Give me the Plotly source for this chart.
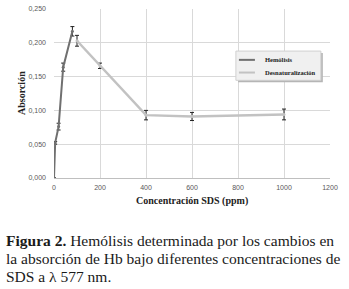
import plotly.graph_objects as go

hem_x = [0, 5, 20, 40, 80]
hem_y = [0.000, 0.052, 0.076, 0.164, 0.217]
hem_err = [0.000, 0.002, 0.005, 0.006, 0.007]

den_x = [100, 200, 400, 600, 1000]
den_y = [0.203, 0.166, 0.093, 0.091, 0.094]
den_err = [0.008, 0.004, 0.007, 0.006, 0.008]

x_ticks = [0, 200, 400, 600, 800, 1000, 1200]
y_ticks = [0.0, 0.05, 0.10, 0.15, 0.20, 0.25]

series_names = ["Hemólisis", "Desnaturalización"]
series_colors = ["#707070", "#c2c2c2"]

fig = go.Figure()
fig.add_trace(go.Scatter(
    x=hem_x, y=hem_y, name=series_names[0], mode="lines+markers",
    line=dict(color=series_colors[0], width=2), marker=dict(size=3, color=series_colors[0]),
    error_y=dict(type="data", array=hem_err, color="#222222", thickness=1, width=2)))
fig.add_trace(go.Scatter(
    x=den_x, y=den_y, name=series_names[1], mode="lines+markers",
    line=dict(color=series_colors[1], width=2.5), marker=dict(size=3, color=series_colors[1]),
    error_y=dict(type="data", array=den_err, color="#222222", thickness=1, width=2)))

# custom legend (paper coordinates)
shapes = [
    dict(type="rect", xref="paper", yref="paper", x0=0.667, x1=0.974, y0=0.566, y1=0.739,
         fillcolor="#b5b5b5", line=dict(width=0), layer="above"),
    dict(type="rect", xref="paper", yref="paper", x0=0.659, x1=0.967, y0=0.578, y1=0.751,
         fillcolor="#f0f0f0", line=dict(color="#d0d0d0", width=1), layer="above"),
]
legend_rows = [0.699, 0.624]
annotations = []
for name, color, yy in zip(series_names, series_colors, legend_rows):
    shapes.append(dict(type="line", xref="paper", yref="paper", x0=0.670, x1=0.728,
                       y0=yy, y1=yy, line=dict(color=color, width=2), layer="above"))
    annotations.append(dict(text="<b>" + name + "</b>", xref="paper", yref="paper",
                            x=0.757, y=yy, xanchor="left", yanchor="middle", showarrow=False,
                            font=dict(family="Liberation Serif", size=6.5, color="#222222")))

cap_font = dict(family="Liberation Serif", size=15.5, color="#1a1a1a")
annotations += [
    dict(text="<b>Absorción</b>", xref="paper", yref="paper", x=0, y=0.5,
         xshift=-40, textangle=-90, showarrow=False,
         font=dict(family="Liberation Serif", size=10, color="#222222")),
    dict(text="<b>Concentración SDS (ppm)</b>", xref="paper", yref="paper", x=0.5, y=0,
         yshift=-31, showarrow=False,
         font=dict(family="Liberation Serif", size=10, color="#222222")),
    dict(text="<b>Figura 2.</b> Hemólisis determinada por los cambios en", xref="paper",
         yref="paper", x=0, y=0, xshift=-50, yshift=-62, xanchor="left", yanchor="middle",
         showarrow=False, font=cap_font),
    dict(text="la absorción de Hb bajo diferentes concentraciones de", xref="paper",
         yref="paper", x=0, y=0, xshift=-50, yshift=-80, xanchor="left", yanchor="middle",
         showarrow=False, font=cap_font),
    dict(text="SDS a λ 577 nm.", xref="paper",
         yref="paper", x=0, y=0, xshift=-50, yshift=-98, xanchor="left", yanchor="middle",
         showarrow=False, font=cap_font),
]

tick_font = dict(family="Liberation Sans", size=7, color="#595959")
fig.update_layout(
    width=349, height=289,
    margin=dict(l=54, r=19, t=5, b=111),
    paper_bgcolor="white", plot_bgcolor="white",
    separators=",.",
    showlegend=False,
    hovermode=False,
    xaxis=dict(range=[0, 1200], tickvals=x_ticks, showgrid=True, gridcolor="#d9d9d9",
               gridwidth=1, zeroline=False, showline=True, linecolor="#bfbfbf",
               tickfont=tick_font, ticks="", ticklabelstandoff=3),
    yaxis=dict(range=[0, 0.25], tickvals=y_ticks, tickformat=".3f", showgrid=True,
               gridcolor="#d9d9d9", zeroline=False, showline=False,
               tickfont=tick_font, ticks="", ticklabelstandoff=7),
    shapes=shapes,
    annotations=annotations,
)

fig.write_html("out.html", config={"displayModeBar": False},
               post_script="document.body.style.margin='0px';")
